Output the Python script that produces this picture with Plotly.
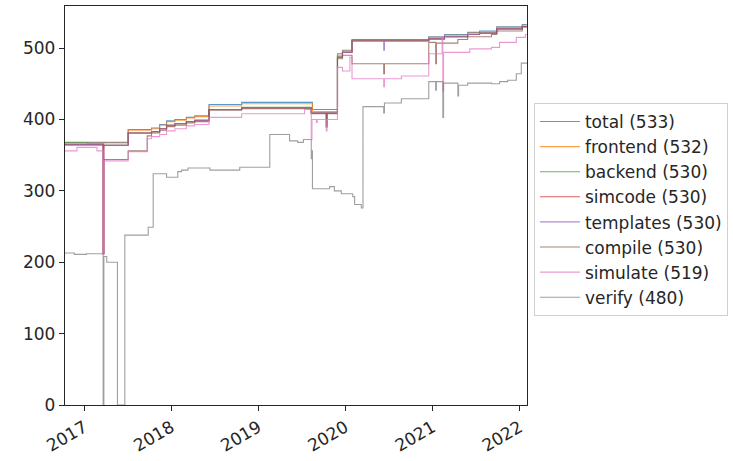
import plotly.graph_objects as go

series_names = ["total", "frontend", "backend", "simcode", "templates", "compile", "simulate", "verify"]
series_colors = ["rgba(31,119,180,0.75)", "rgba(255,127,14,0.75)", "rgba(44,160,44,0.75)",
                 "rgba(214,39,40,0.75)", "rgba(148,103,189,0.75)", "rgba(140,86,75,0.75)",
                 "rgba(227,119,194,0.75)", "rgba(127,127,127,0.75)"]

total_dates = ["2016-10-12", "2017-07-04", "2017-10-10", "2017-11-13", "2017-12-12", "2018-01-16",
               "2018-03-05", "2018-04-09", "2018-06-08", "2018-10-23", "2019-08-16", "2019-11-29",
               "2019-12-20", "2020-01-29", "2020-12-16", "2021-02-20", "2021-05-28", "2021-07-17",
               "2021-09-27", "2022-01-12", "2022-01-31"]
total_values = [368, 386, 388, 393, 398, 400, 403, 405, 421, 424, 414, 492, 497, 512, 516, 519, 522, 524,
                530, 533, 533]

frontend_dates = ["2016-10-12", "2017-03-21", "2017-03-24", "2017-07-04", "2017-10-10", "2017-11-13",
                  "2017-12-12", "2018-01-16", "2018-03-05", "2018-04-09", "2018-06-08", "2018-10-23",
                  "2019-08-16", "2019-11-29", "2019-12-20", "2020-01-29", "2020-12-16", "2021-02-20",
                  "2021-05-28", "2021-07-17", "2021-09-27", "2022-01-12", "2022-01-31"]
frontend_values = [367, 362, 367, 385, 387, 392, 397, 399, 402, 404, 419, 422, 411, 490, 496, 511, 515, 518,
                   521, 523, 529, 532, 532]

backend_dates = ["2016-10-12", "2017-01-16", "2017-03-21", "2017-07-04", "2017-10-10", "2017-11-13",
                 "2017-12-12", "2018-01-16", "2018-03-05", "2018-04-09", "2018-06-08", "2018-10-23",
                 "2019-08-11", "2019-11-29", "2019-12-20", "2020-01-29", "2020-12-16", "2021-02-20",
                 "2021-05-28", "2021-07-17", "2021-09-27", "2022-01-12", "2022-01-31"]
backend_values = [367, 366, 364, 381, 383, 387, 392, 394, 397, 399, 414, 417, 409, 488, 494, 511, 513, 516,
                  519, 521, 527, 530, 530]

simcode_dates = ["2016-10-12", "2017-03-21", "2017-03-24", "2017-07-04", "2017-10-10", "2017-11-13",
                 "2017-12-12", "2018-01-16", "2018-03-05", "2018-04-09", "2018-06-08", "2018-10-23",
                 "2019-08-11", "2019-10-13", "2019-10-16", "2019-11-29", "2019-12-20", "2020-01-29",
                 "2020-12-16", "2021-02-20", "2021-05-28", "2021-07-17", "2021-09-27", "2022-01-12",
                 "2022-01-31"]
simcode_values = [365, 212, 364, 381, 383, 387, 392, 394, 397, 399, 414, 416, 409, 391, 409, 487, 494, 510,
                  513, 516, 519, 521, 527, 530, 530]

templates_dates = ["2016-10-12", "2017-03-21", "2017-03-24", "2017-07-04", "2017-10-10", "2017-11-13",
                   "2017-12-12", "2018-01-16", "2018-03-05", "2018-04-09", "2018-06-08", "2018-10-23",
                   "2019-08-11", "2019-10-13", "2019-10-16", "2019-11-29", "2019-12-20", "2020-01-29",
                   "2020-06-10", "2020-06-13", "2020-12-16", "2021-02-20", "2021-05-28", "2021-07-17",
                   "2021-09-27", "2022-01-12", "2022-01-31"]
templates_values = [365, 212, 364, 381, 383, 387, 392, 394, 397, 399, 414, 416, 409, 391, 409, 487, 494, 510,
                    497, 510, 513, 516, 519, 521, 527, 530, 530]

compile_dates = ["2016-10-12", "2017-03-21", "2017-03-24", "2017-07-04", "2017-09-22", "2017-10-10",
                 "2017-11-13", "2017-12-12", "2018-01-16", "2018-03-05", "2018-04-09", "2018-06-08",
                 "2018-10-23", "2019-08-11", "2019-10-13", "2019-10-16", "2019-11-29", "2019-12-20",
                 "2020-01-29", "2020-06-10", "2020-06-13", "2020-12-16", "2021-01-14", "2021-01-17",
                 "2021-04-17", "2021-05-28", "2021-09-05", "2021-09-27", "2022-01-12", "2022-01-31"]
compile_values = [364, 212, 344, 356, 377, 381, 385, 390, 392, 395, 397, 413, 415, 408, 389, 408, 485, 490,
                  478, 464, 478, 508, 478, 507, 512, 516, 519, 524, 530, 530]

simulate_dates = ["2016-10-12", "2016-12-01", "2017-02-23", "2017-03-21", "2017-03-24", "2017-07-04",
                  "2017-09-22", "2017-10-10", "2017-11-13", "2017-12-12", "2018-01-16", "2018-03-05",
                  "2018-04-09", "2018-06-08", "2018-10-23", "2019-07-14", "2019-08-11", "2019-08-14",
                  "2019-09-02", "2019-09-05", "2019-10-13", "2019-10-16", "2019-11-29", "2019-12-20",
                  "2020-01-20", "2020-01-29", "2020-06-10", "2020-06-13", "2020-08-23", "2020-12-16",
                  "2021-02-10", "2021-02-13", "2021-02-16", "2021-06-06", "2021-09-05", "2021-10-09",
                  "2021-12-18", "2022-01-25", "2022-01-31"]
simulate_values = [356, 361, 356, 212, 342, 355, 373, 376, 379, 384, 387, 391, 393, 403, 408, 414, 372, 400,
                   396, 400, 384, 400, 473, 468, 487, 457, 446, 457, 461, 492, 515, 440, 494, 499, 501, 508,
                   515, 519, 519]

verify_dates = ["2016-10-12", "2016-11-20", "2017-01-10", "2017-03-21", "2017-03-24", "2017-04-05",
                "2017-05-20", "2017-06-20", "2017-09-26", "2017-10-17", "2017-12-12", "2018-01-28",
                "2018-02-13", "2018-03-12", "2018-06-12", "2018-10-15", "2019-02-18", "2019-05-12",
                "2019-06-15", "2019-07-09", "2019-08-11", "2019-08-13", "2019-08-16", "2019-10-27",
                "2019-11-16", "2019-12-15", "2020-02-01", "2020-02-09", "2020-03-08", "2020-03-15",
                "2020-06-10", "2020-06-13", "2020-08-23", "2020-12-16", "2021-01-14", "2021-01-17",
                "2021-02-13", "2021-02-16", "2021-04-17", "2021-04-20", "2021-05-28", "2021-09-05",
                "2021-10-09", "2021-11-12", "2021-12-18", "2022-01-08", "2022-01-31"]
verify_values = [213, 211, 212, 0, 208, 200, 0, 238, 249, 324, 319, 327, 329, 332, 329, 333, 379, 370,
                 368, 372, 345, 356, 303, 306, 300, 296, 292, 281, 276, 418, 409, 423, 429, 453, 441, 453,
                 403, 451, 433, 448, 451, 450, 453, 455, 464, 479, 480]

year_ticks = ["2017-01-01", "2018-01-01", "2019-01-01", "2020-01-01", "2021-01-01", "2022-01-01"]
year_labels = ["2017", "2018", "2019", "2020", "2021", "2022"]
value_ticks = [0, 100, 200, 300, 400, 500]

all_dates = [total_dates, frontend_dates, backend_dates, simcode_dates, templates_dates,
             compile_dates, simulate_dates, verify_dates]
all_values = [total_values, frontend_values, backend_values, simcode_values, templates_values,
              compile_values, simulate_values, verify_values]

fig = go.Figure()
for name, color, xs, ys in zip(series_names, series_colors, all_dates, all_values):
    fig.add_trace(go.Scatter(
        x=xs, y=ys, mode="lines", line=dict(color=color, width=1.1, shape="hv"),
        name=f"{name} ({ys[-1]})",
    ))

font_family = "DejaVu Sans"
axis_color = "#262626"
fig.update_layout(
    width=733, height=461,
    margin=dict(l=65, r=205, t=5, b=51),
    paper_bgcolor="white", plot_bgcolor="white",
    font=dict(family=font_family, size=17, color=axis_color),
    showlegend=True,
    legend=dict(
        x=1.015, y=0.757, xanchor="left", yanchor="top",
        bordercolor="#d0d0d0", borderwidth=1, bgcolor="white",
        itemwidth=40,
        font=dict(family=font_family, size=17, color=axis_color),
    ),
    xaxis=dict(
        type="date", range=["2016-10-12", "2022-02-01"],
        tickvals=year_ticks, ticktext=year_labels,
        tickangle=-30, ticks="outside", ticklen=5, tickwidth=1.3, tickcolor=axis_color,
        showline=True, mirror=True, linecolor=axis_color, linewidth=1.3,
        showgrid=False, zeroline=False,
    ),
    yaxis=dict(
        range=[0, 559], tickvals=value_ticks,
        ticks="outside", ticklen=5, tickwidth=1.3, tickcolor=axis_color,
        showline=True, mirror=True, linecolor=axis_color, linewidth=1.3,
        showgrid=False, zeroline=False,
    ),
)

fig.write_html("out.html", config={"displayModeBar": False},
               post_script="document.body.style.margin='0px';")
